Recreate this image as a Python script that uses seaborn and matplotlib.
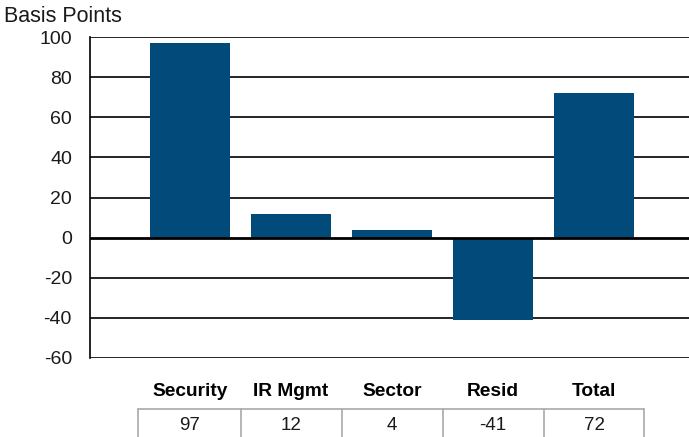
import matplotlib
matplotlib.use("Agg")
import matplotlib.pyplot as plt
import matplotlib.transforms as mtransforms
import seaborn as sns
import pandas as pd

categories = ["Security", "IR Mgmt", "Sector", "Resid", "Total"]
values = [97, 12, 4, -41, 72]
yticks = [-60, -40, -20, 0, 20, 40, 60, 80, 100]

sns.set_style("white")
plt.rcParams["font.family"] = ["Liberation Sans", "DejaVu Sans"]

df = pd.DataFrame({"category": categories, "bp": values})

fig = plt.figure(figsize=(6.89, 4.37), dpi=100)
ax = fig.add_axes([90 / 689, 1 - 358 / 437, 1 - 90 / 689, (358 - 37) / 437])

sns.barplot(data=df, x="category", y="bp", color="#024a7a", saturation=1,
            width=0.79, ax=ax, zorder=3, edgecolor="none", linewidth=0)

ax.set_ylim(-60, 100)
ax.set_xlim(-0.99, 4.94)
ax.set_yticks(yticks)
ax.set_yticklabels([str(t) for t in yticks], fontsize=14, color="#1a1a1a")
ax.tick_params(axis="y", length=0, pad=13)
ax.set_xticks([])
ax.set_xlabel("")
ax.set_ylabel("")

for t in yticks:
    ax.axhline(t, color="black", lw=2.0 if t == 0 else 1.2, zorder=2 if t != 0 else 4)

for side in ["top", "right", "bottom"]:
    ax.spines[side].set_visible(False)
ax.spines["left"].set_color("black")
ax.spines["left"].set_linewidth(1.2)

fig.text(4 / 689, 1 - 17 / 437, "Basis Points", fontsize=15.5, va="center",
         ha="left", color="#1a1a1a")

# category labels and value table below the axes
trans = mtransforms.blended_transform_factory(ax.transData, fig.transFigure)
for i, (c, v) in enumerate(zip(categories, values)):
    ax.text(i, 1 - 392 / 437, c, transform=trans, ha="center", va="center",
            fontsize=13.8, fontweight="bold", color="black", clip_on=False)
    ax.text(i, 1 - 425 / 437, str(v), transform=trans, ha="center", va="center",
            fontsize=13.5, color="#1a1a1a", clip_on=False)

table_top = 1 - 409 / 437
grid_color = "#a9a9a9"
ax.plot([-0.515, 4.49], [table_top, table_top], transform=trans, color=grid_color,
        lw=1.2, clip_on=False)
for x in [-0.515, 0.5, 1.5, 2.5, 3.5, 4.49]:
    ax.plot([x, x], [table_top, -0.05], transform=trans, color=grid_color,
            lw=1.2, clip_on=False)

fig.savefig("out.png", dpi=100)
